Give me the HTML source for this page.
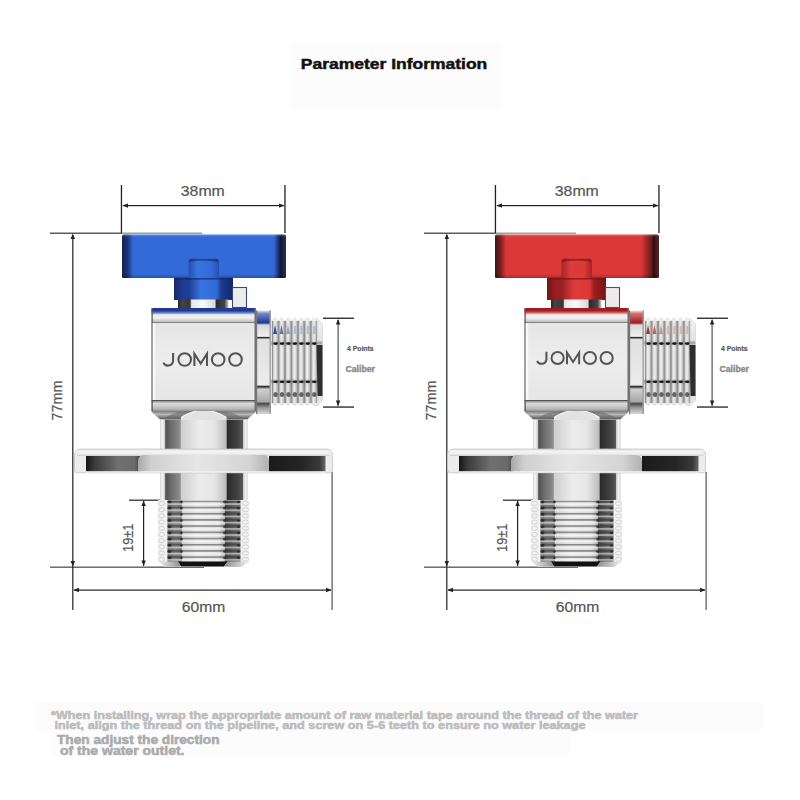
<!DOCTYPE html>
<html><head><meta charset="utf-8">
<style>
html,body{margin:0;padding:0;background:#fff;width:800px;height:800px;overflow:hidden;}
svg{display:block;}
text{font-family:"Liberation Sans",sans-serif;}
</style></head><body>
<svg width="800" height="800" viewBox="0 0 800 800">
<defs>
  <g id="dims">
    <!-- 38mm -->
    <rect x="120.8" y="185" width="1.3" height="48" fill="#222"/>
    <rect x="284.3" y="185" width="1.3" height="48" fill="#222"/>
    <rect x="123" y="205" width="161" height="1.2" fill="#222"/>
    <path d="M122.2 205.6 L128 203.4 L128 207.8 Z" fill="#222"/>
    <path d="M284.5 205.6 L279 203.4 L279 207.8 Z" fill="#222"/>
    <text x="180.8" y="196" font-size="15.4" fill="#555" stroke="#555" stroke-width="0.2" textLength="44" lengthAdjust="spacingAndGlyphs">38mm</text>
    <!-- 77mm -->
    <rect x="50" y="232.6" width="72" height="1.2" fill="#333"/>
    <rect x="122" y="232.6" width="80" height="1.2" fill="#888"/>
    <rect x="72.2" y="235" width="1.2" height="375" fill="#222"/>
    <path d="M72.8 233.5 L70.6 239 L75 239 Z" fill="#222"/>
    <path d="M72.8 566.5 L70.6 561 L75 561 Z" fill="#222"/>
    <rect x="50" y="566.6" width="154" height="1.1" fill="#333"/>
    <text transform="translate(61.8,420.5) rotate(-90)" font-size="15.4" fill="#555" stroke="#555" stroke-width="0.2" textLength="40" lengthAdjust="spacingAndGlyphs">77mm</text>
    <!-- 60mm -->
    <rect x="74" y="589.5" width="257" height="1.2" fill="#222"/>
    <path d="M73.5 590 L79 587.8 L79 592.2 Z" fill="#222"/>
    <path d="M331.5 590 L326 587.8 L326 592.2 Z" fill="#222"/>
    <rect x="331.5" y="472" width="1.2" height="138" fill="#555"/>
    <text x="181.8" y="612" font-size="15.4" fill="#555" stroke="#555" stroke-width="0.2" textLength="43.5" lengthAdjust="spacingAndGlyphs">60mm</text>
    <!-- 19±1 -->
    <rect x="129" y="499.6" width="31" height="1.2" fill="#222"/>
    <rect x="143" y="501" width="1.2" height="65" fill="#222"/>
    <path d="M143.6 500.5 L141.4 506 L145.8 506 Z" fill="#222"/>
    <path d="M143.6 566 L141.4 560.5 L145.8 560.5 Z" fill="#222"/>
    <text transform="translate(133.1,552) rotate(-90)" font-size="15" fill="#555" stroke="#555" stroke-width="0.2" textLength="28.5" lengthAdjust="spacingAndGlyphs">19±1</text>
    <!-- caliber -->
    <rect x="323" y="317.6" width="31" height="1.3" fill="#222"/>
    <rect x="323" y="406.4" width="31" height="1.3" fill="#222"/>
    <rect x="337.5" y="320" width="1.2" height="86" fill="#555"/>
    <path d="M338.1 319 L335.9 324.5 L340.3 324.5 Z" fill="#222"/>
    <path d="M338.1 406 L335.9 400.5 L340.3 400.5 Z" fill="#222"/>
    <text x="347" y="351.2" font-size="6.4" font-weight="bold" fill="#5a5a5a" stroke="#5a5a5a" stroke-width="0.2" textLength="26.5" lengthAdjust="spacingAndGlyphs">4 Points</text>
    <text x="345.5" y="372.3" font-size="8.5" font-weight="bold" fill="#8a8a8a" stroke="#8a8a8a" stroke-width="0.35" textLength="29.5" lengthAdjust="spacingAndGlyphs">Caliber</text>
  </g>

</defs>
<rect width="800" height="800" fill="#fff"/>
<rect x="36" y="702.5" width="727" height="28" fill="#fbfbfb"/>
<rect x="51" y="730.5" width="520" height="24" fill="#fcfcfc"/>
<rect x="290" y="43" width="212" height="66" fill="#fcfcfc"/>
<text x="300.8" y="69.1" font-size="14" font-weight="bold" fill="#111" stroke="#111" stroke-width="0.45" textLength="186.5" lengthAdjust="spacingAndGlyphs">Parameter Information</text>
<use href="#dims"/>
<use href="#dims" x="374"/>
<g transform="translate(0,0)">
<defs>

  <linearGradient id="v1neck" x1="160" y1="0" x2="247.5" y2="0" gradientUnits="userSpaceOnUse">
    <stop offset="0" stop-color="#d8d8d8"/>
    <stop offset="0.03" stop-color="#f6f6f6"/>
    <stop offset="0.055" stop-color="#c8c8c8"/>
    <stop offset="0.065" stop-color="#505050"/>
    <stop offset="0.12" stop-color="#6a6a6a"/>
    <stop offset="0.23" stop-color="#8c8c8c"/>
    <stop offset="0.245" stop-color="#cfcfcf"/>
    <stop offset="0.45" stop-color="#ececec"/>
    <stop offset="0.62" stop-color="#e6e6e6"/>
    <stop offset="0.755" stop-color="#bdbdbd"/>
    <stop offset="0.77" stop-color="#2a2a2a"/>
    <stop offset="0.9" stop-color="#454545"/>
    <stop offset="0.945" stop-color="#5a5a5a"/>
    <stop offset="0.955" stop-color="#d4d4d4"/>
    <stop offset="0.98" stop-color="#f4f4f4"/>
    <stop offset="1" stop-color="#cccccc"/>
  </linearGradient>
  <linearGradient id="v1topband" x1="0" y1="308" x2="0" y2="323" gradientUnits="userSpaceOnUse">
    <stop offset="0" stop-color="#1e3a94"/>
    <stop offset="0.18" stop-color="#1e3a94"/>
    <stop offset="0.33" stop-color="#6f86c8"/>
    <stop offset="0.45" stop-color="#ececec"/>
    <stop offset="0.65" stop-color="#f2f2f2"/>
    <stop offset="0.9" stop-color="#c4c4c4"/>
    <stop offset="1" stop-color="#3a3a3a"/>
  </linearGradient>
  <linearGradient id="v1face" x1="0" y1="323" x2="0" y2="400" gradientUnits="userSpaceOnUse">
    <stop offset="0" stop-color="#e6e6e6"/>
    <stop offset="0.5" stop-color="#ededed"/>
    <stop offset="1" stop-color="#e6e6e6"/>
  </linearGradient>
  <linearGradient id="v1botband" x1="0" y1="400" x2="0" y2="412" gradientUnits="userSpaceOnUse">
    <stop offset="0" stop-color="#2e2e2e"/>
    <stop offset="0.12" stop-color="#9a9a9a"/>
    <stop offset="0.3" stop-color="#dcdcdc"/>
    <stop offset="0.75" stop-color="#b8b8b8"/>
    <stop offset="1" stop-color="#7a7a7a"/>
  </linearGradient>
  <linearGradient id="v1taper" x1="0" y1="410" x2="0" y2="419" gradientUnits="userSpaceOnUse">
    <stop offset="0" stop-color="#6a6a6a"/>
    <stop offset="0.5" stop-color="#b8b8b8"/>
    <stop offset="1" stop-color="#5a5a5a"/>
  </linearGradient>
  <linearGradient id="v1handle" x1="122" y1="0" x2="286" y2="0" gradientUnits="userSpaceOnUse">
    <stop offset="0" stop-color="#17244f"/>
    <stop offset="0.035" stop-color="#1e3478"/>
    <stop offset="0.068" stop-color="#336ad8"/>
    <stop offset="0.925" stop-color="#336ad8"/>
    <stop offset="0.955" stop-color="#1a2f70"/>
    <stop offset="0.968" stop-color="#0e1630"/>
    <stop offset="1" stop-color="#2a3358"/>
  </linearGradient>
  <linearGradient id="v1handleV" x1="0" y1="234.5" x2="0" y2="278" gradientUnits="userSpaceOnUse">
    <stop offset="0" stop-color="#ffffff" stop-opacity="0.25"/>
    <stop offset="0.06" stop-color="#ffffff" stop-opacity="0"/>
    <stop offset="0.9" stop-color="#000000" stop-opacity="0"/>
    <stop offset="1" stop-color="#000000" stop-opacity="0.2"/>
  </linearGradient>
  <linearGradient id="v1stem" x1="188.5" y1="0" x2="219" y2="0" gradientUnits="userSpaceOnUse">
    <stop offset="0" stop-color="#2350b0"/>
    <stop offset="0.3" stop-color="#3a74e0"/>
    <stop offset="0.75" stop-color="#336ad8"/>
    <stop offset="1" stop-color="#2350b0"/>
  </linearGradient>
  <linearGradient id="v1collar" x1="174" y1="0" x2="233" y2="0" gradientUnits="userSpaceOnUse">
    <stop offset="0" stop-color="#13286a"/>
    <stop offset="0.15" stop-color="#1e3c92"/>
    <stop offset="0.25" stop-color="#1e3c92"/>
    <stop offset="0.45" stop-color="#3a74e0"/>
    <stop offset="0.72" stop-color="#336ad8"/>
    <stop offset="0.8" stop-color="#1e3c92"/>
    <stop offset="1" stop-color="#13286a"/>
  </linearGradient>
  <linearGradient id="v1ring" x1="178" y1="0" x2="228.5" y2="0" gradientUnits="userSpaceOnUse">
    <stop offset="0" stop-color="#2a2a2a"/>
    <stop offset="0.08" stop-color="#444"/>
    <stop offset="0.24" stop-color="#3a3530"/>
    <stop offset="0.27" stop-color="#e8e8e8"/>
    <stop offset="0.5" stop-color="#fafafa"/>
    <stop offset="0.73" stop-color="#d8d8d8"/>
    <stop offset="0.76" stop-color="#2e2a28"/>
    <stop offset="0.92" stop-color="#444"/>
    <stop offset="1" stop-color="#cfcfcf"/>
  </linearGradient>
  <linearGradient id="v1flange" x1="74.5" y1="0" x2="332.5" y2="0" gradientUnits="userSpaceOnUse">
    <stop offset="0" stop-color="#e6e6e6"/>
    <stop offset="0.04" stop-color="#d4d4d4"/>
    <stop offset="0.045" stop-color="#222222"/>
    <stop offset="0.07" stop-color="#4a4a4a"/>
    <stop offset="0.2" stop-color="#7a7a7a"/>
    <stop offset="0.245" stop-color="#5a5a5a"/>
    <stop offset="0.25" stop-color="#c8c8c8"/>
    <stop offset="0.5" stop-color="#dedede"/>
    <stop offset="0.74" stop-color="#d2d2d2"/>
    <stop offset="0.745" stop-color="#262626"/>
    <stop offset="0.95" stop-color="#303030"/>
    <stop offset="0.97" stop-color="#777777"/>
    <stop offset="0.975" stop-color="#e8e8e8"/>
    <stop offset="1" stop-color="#d0d0d0"/>
  </linearGradient>
  <linearGradient id="v1chL" x1="158" y1="0" x2="181" y2="0" gradientUnits="userSpaceOnUse">
    <stop offset="0" stop-color="#f0f0f0"/>
    <stop offset="0.6" stop-color="#b8b8b8"/>
    <stop offset="1" stop-color="#8a8a8a"/>
  </linearGradient>
  <linearGradient id="v1chR" x1="224" y1="0" x2="248" y2="0" gradientUnits="userSpaceOnUse">
    <stop offset="0" stop-color="#8a8a8a"/>
    <stop offset="0.4" stop-color="#b0b0b0"/>
    <stop offset="1" stop-color="#f0f0f0"/>
  </linearGradient>
  <linearGradient id="v1rim" x1="0" y1="449.6" x2="0" y2="455.6" gradientUnits="userSpaceOnUse">
    <stop offset="0" stop-color="#d0d0d0"/>
    <stop offset="0.2" stop-color="#f6f6f6"/>
    <stop offset="0.8" stop-color="#ebebeb"/>
    <stop offset="1" stop-color="#bdbdbd"/>
  </linearGradient>
  <linearGradient id="v1flL" x1="86" y1="0" x2="140" y2="0" gradientUnits="userSpaceOnUse">
    <stop offset="0" stop-color="#151515"/>
    <stop offset="0.15" stop-color="#3a3a3a"/>
    <stop offset="0.6" stop-color="#707070"/>
    <stop offset="0.9" stop-color="#6a6a6a"/>
    <stop offset="1" stop-color="#444444"/>
  </linearGradient>
  <linearGradient id="v1flR" x1="269" y1="0" x2="325.5" y2="0" gradientUnits="userSpaceOnUse">
    <stop offset="0" stop-color="#1a1a1a"/>
    <stop offset="0.6" stop-color="#262626"/>
    <stop offset="0.9" stop-color="#3a3a3a"/>
    <stop offset="1" stop-color="#6a6a6a"/>
  </linearGradient>
  <linearGradient id="v1plate" x1="138" y1="0" x2="269" y2="0" gradientUnits="userSpaceOnUse">
    <stop offset="0" stop-color="#a8a8a8"/>
    <stop offset="0.1" stop-color="#cfcfcf"/>
    <stop offset="0.45" stop-color="#e6e6e6"/>
    <stop offset="0.85" stop-color="#d4d4d4"/>
    <stop offset="1" stop-color="#b0b0b0"/>
  </linearGradient>
  <linearGradient id="v1nut" x1="0" y1="310.5" x2="0" y2="414" gradientUnits="userSpaceOnUse">
    <stop offset="0" stop-color="#e8e8e8"/>
    <stop offset="0.03" stop-color="#6f86c8"/>
    <stop offset="0.12" stop-color="#1e3a94"/>
    <stop offset="0.14" stop-color="#d8d8d8"/>
    <stop offset="0.25" stop-color="#f0f0f0"/>
    <stop offset="0.26" stop-color="#2a2a2a"/>
    <stop offset="0.28" stop-color="#e0e0e0"/>
    <stop offset="0.72" stop-color="#ececec"/>
    <stop offset="0.735" stop-color="#2a2a2a"/>
    <stop offset="0.76" stop-color="#d0d0d0"/>
    <stop offset="0.88" stop-color="#a8a8a8"/>
    <stop offset="0.9" stop-color="#4a4a4a"/>
    <stop offset="0.94" stop-color="#9a9a9a"/>
    <stop offset="1" stop-color="#d8d8d8"/>
  </linearGradient>
  <linearGradient id="v1thrV" x1="0" y1="318" x2="0" y2="407" gradientUnits="userSpaceOnUse">
    <stop offset="0" stop-color="#f0f0f0"/>
    <stop offset="0.25" stop-color="#e4e4e4"/>
    <stop offset="0.28" stop-color="#9a9a9a"/>
    <stop offset="0.32" stop-color="#f4f4f4"/>
    <stop offset="0.68" stop-color="#f2f2f2"/>
    <stop offset="0.71" stop-color="#8a8a8a"/>
    <stop offset="0.75" stop-color="#dadada"/>
    <stop offset="1" stop-color="#e8e8e8"/>
  </linearGradient>
  <linearGradient id="v1ridgeG" x1="0" y1="0" x2="1" y2="0">
    <stop offset="0" stop-color="#555555" stop-opacity="0.9"/>
    <stop offset="0.18" stop-color="#9a9a9a" stop-opacity="0.5"/>
    <stop offset="0.42" stop-color="#ffffff" stop-opacity="0.9"/>
    <stop offset="0.7" stop-color="#bdbdbd" stop-opacity="0.4"/>
    <stop offset="1" stop-color="#6a6a6a" stop-opacity="0.85"/>
  </linearGradient>
  <pattern id="v1ridge" x="272" y="0" width="6.45" height="100" patternUnits="userSpaceOnUse">
    <rect x="0" y="0" width="6.45" height="100" fill="url(#v1ridgeG)"/>
  </pattern>
  <pattern id="v1lthread" x="0" y="500.5" width="100" height="6.2" patternUnits="userSpaceOnUse">
    <rect x="0" y="0" width="100" height="1.6" fill="#3a3a3a" fill-opacity="0.55"/>
    <rect x="0" y="2.6" width="100" height="2" fill="#ffffff" fill-opacity="0.5"/>
  </pattern>
  <linearGradient id="v1lthrG" x1="167.5" y1="0" x2="240.5" y2="0" gradientUnits="userSpaceOnUse">
    <stop offset="0" stop-color="#5a5a5a"/>
    <stop offset="0.1" stop-color="#7a7a7a"/>
    <stop offset="0.19" stop-color="#727272"/>
    <stop offset="0.2" stop-color="#cfcfcf"/>
    <stop offset="0.4" stop-color="#e8e8e8"/>
    <stop offset="0.7" stop-color="#e0e0e0"/>
    <stop offset="0.78" stop-color="#b0b0b0"/>
    <stop offset="0.79" stop-color="#3a3a3a"/>
    <stop offset="0.9" stop-color="#5a5a5a"/>
    <stop offset="1" stop-color="#6a6a6a"/>
  </linearGradient>

</defs>
<rect x="160" y="410" width="87.5" height="41" fill="url(#v1neck)"/>
<path d="M151.5 410 L256 410 L256 412 Q251 416 247.5 419.5 L160 419.5 Q156 416 151.5 412 Z" fill="url(#v1taper)" stroke="#e8e8e8" stroke-width="0.6"/>
<path d="M164 419.5 Q170 413 181 412 Q203.5 409 226.5 412 Q237 413 244 419.5 Z" fill="#6a6a6a" fill-opacity="0.6"/>
<path d="M181 420 L181 417.5 Q203.5 403 226.5 417.5 L226.5 420 Z" fill="#e2e2e2"/>
<path d="M181 417.5 Q203.5 403 226.5 417.5" fill="none" stroke="#fafafa" stroke-width="1.2"/>
<rect x="160" y="472" width="87.5" height="29" fill="url(#v1neck)"/>
<path d="M158 500 L249 500 L249 562 L241 567 L166 567 L158 562 Z" fill="#f2f2f2"/>
<g fill="none" stroke="#c8c8c8" stroke-width="0.8"><ellipse cx="161.5" cy="503.50" rx="3" ry="2.1"/><ellipse cx="245.5" cy="503.50" rx="3" ry="2.1"/><ellipse cx="161.5" cy="509.70" rx="3" ry="2.1"/><ellipse cx="245.5" cy="509.70" rx="3" ry="2.1"/><ellipse cx="161.5" cy="515.90" rx="3" ry="2.1"/><ellipse cx="245.5" cy="515.90" rx="3" ry="2.1"/><ellipse cx="161.5" cy="522.10" rx="3" ry="2.1"/><ellipse cx="245.5" cy="522.10" rx="3" ry="2.1"/><ellipse cx="161.5" cy="528.30" rx="3" ry="2.1"/><ellipse cx="245.5" cy="528.30" rx="3" ry="2.1"/><ellipse cx="161.5" cy="534.50" rx="3" ry="2.1"/><ellipse cx="245.5" cy="534.50" rx="3" ry="2.1"/><ellipse cx="161.5" cy="540.70" rx="3" ry="2.1"/><ellipse cx="245.5" cy="540.70" rx="3" ry="2.1"/><ellipse cx="161.5" cy="546.90" rx="3" ry="2.1"/><ellipse cx="245.5" cy="546.90" rx="3" ry="2.1"/><ellipse cx="161.5" cy="553.10" rx="3" ry="2.1"/><ellipse cx="245.5" cy="553.10" rx="3" ry="2.1"/><ellipse cx="161.5" cy="559.30" rx="3" ry="2.1"/><ellipse cx="245.5" cy="559.30" rx="3" ry="2.1"/></g>
<rect x="167.5" y="500.5" width="73" height="62" fill="url(#v1lthrG)"/>
<rect x="167.5" y="500.5" width="73" height="62" fill="url(#v1lthread)"/>
<g fill="#111" fill-opacity="0.6"><ellipse cx="169.5" cy="502.00" rx="2" ry="1.4"/><ellipse cx="181.5" cy="502.00" rx="1.4" ry="1.4"/><ellipse cx="224.5" cy="502.00" rx="1.4" ry="1.4"/><ellipse cx="238.5" cy="502.00" rx="1.6" ry="1.2"/><ellipse cx="169.5" cy="508.20" rx="2" ry="1.4"/><ellipse cx="181.5" cy="508.20" rx="1.4" ry="1.4"/><ellipse cx="224.5" cy="508.20" rx="1.4" ry="1.4"/><ellipse cx="238.5" cy="508.20" rx="1.6" ry="1.2"/><ellipse cx="169.5" cy="514.40" rx="2" ry="1.4"/><ellipse cx="181.5" cy="514.40" rx="1.4" ry="1.4"/><ellipse cx="224.5" cy="514.40" rx="1.4" ry="1.4"/><ellipse cx="238.5" cy="514.40" rx="1.6" ry="1.2"/><ellipse cx="169.5" cy="520.60" rx="2" ry="1.4"/><ellipse cx="181.5" cy="520.60" rx="1.4" ry="1.4"/><ellipse cx="224.5" cy="520.60" rx="1.4" ry="1.4"/><ellipse cx="238.5" cy="520.60" rx="1.6" ry="1.2"/><ellipse cx="169.5" cy="526.80" rx="2" ry="1.4"/><ellipse cx="181.5" cy="526.80" rx="1.4" ry="1.4"/><ellipse cx="224.5" cy="526.80" rx="1.4" ry="1.4"/><ellipse cx="238.5" cy="526.80" rx="1.6" ry="1.2"/><ellipse cx="169.5" cy="533.00" rx="2" ry="1.4"/><ellipse cx="181.5" cy="533.00" rx="1.4" ry="1.4"/><ellipse cx="224.5" cy="533.00" rx="1.4" ry="1.4"/><ellipse cx="238.5" cy="533.00" rx="1.6" ry="1.2"/><ellipse cx="169.5" cy="539.20" rx="2" ry="1.4"/><ellipse cx="181.5" cy="539.20" rx="1.4" ry="1.4"/><ellipse cx="224.5" cy="539.20" rx="1.4" ry="1.4"/><ellipse cx="238.5" cy="539.20" rx="1.6" ry="1.2"/><ellipse cx="169.5" cy="545.40" rx="2" ry="1.4"/><ellipse cx="181.5" cy="545.40" rx="1.4" ry="1.4"/><ellipse cx="224.5" cy="545.40" rx="1.4" ry="1.4"/><ellipse cx="238.5" cy="545.40" rx="1.6" ry="1.2"/><ellipse cx="169.5" cy="551.60" rx="2" ry="1.4"/><ellipse cx="181.5" cy="551.60" rx="1.4" ry="1.4"/><ellipse cx="224.5" cy="551.60" rx="1.4" ry="1.4"/><ellipse cx="238.5" cy="551.60" rx="1.6" ry="1.2"/><ellipse cx="169.5" cy="557.80" rx="2" ry="1.4"/><ellipse cx="181.5" cy="557.80" rx="1.4" ry="1.4"/><ellipse cx="224.5" cy="557.80" rx="1.4" ry="1.4"/><ellipse cx="238.5" cy="557.80" rx="1.6" ry="1.2"/></g>
<path d="M178 561.6 L227.5 561.6 L224 566.5 L181 566.5 Z" fill="#121212"/>
<path d="M227.5 561.6 L240 561.6 L248 562 L241 567 L224 566.5 Z" fill="url(#v1chR)"/>
<path d="M166 561.6 L178 561.6 L181 566.5 L166 567 L158.5 562 Z" fill="url(#v1chL)"/>
<path d="M81 449 L326 449 Q332.5 449 332.5 455.5 L332.5 470 Q332.5 472.8 329.5 472.8 L77.5 472.8 Q74.5 472.8 74.5 470 L74.5 455.5 Q74.5 449 81 449 Z" fill="#ececec" stroke="#c4c4c4" stroke-width="0.8"/>
<rect x="77" y="449.6" width="253" height="6" fill="url(#v1rim)"/>
<path d="M86 456 L140 456 L140 471.6 L86 471.6 Z" fill="url(#v1flL)"/>
<path d="M269 456 L325.5 456 L325.5 471.6 L269 471.6 Z" fill="url(#v1flR)"/>
<path d="M145 455 L262 455 Q269 455 269 461 L269 471.6 L138 471.6 L138 461 Q138 455 145 455 Z" fill="url(#v1plate)"/>
<rect x="86" y="471.4" width="240" height="1.2" fill="#f4f4f4"/>
<rect x="151.5" y="308" width="104.5" height="15" rx="1.5" fill="url(#v1topband)"/>
<rect x="151.5" y="322.8" width="104.5" height="77.4" fill="url(#v1face)"/>
<rect x="151.5" y="400" width="104.5" height="11" fill="url(#v1botband)"/>
<rect x="151.5" y="308" width="1.2" height="103" fill="#505050"/>
<rect x="152.7" y="323" width="2.5" height="77" fill="#f8f8f8"/>
<rect x="254.5" y="308" width="1.5" height="103" fill="#707070"/>
<rect x="256" y="310.5" width="15" height="103.5" fill="url(#v1nut)"/>
<rect x="256" y="310.5" width="1.2" height="103.5" fill="#777"/>
<rect x="269.5" y="310.5" width="1.5" height="103.5" fill="#9a9a9a"/>
<path d="M271 321.5 L275.23 317.6 L278.45 321.2 L281.68 317.6 L284.90 321.2 L288.12 317.6 L291.35 321.2 L294.58 317.6 L297.80 321.2 L301.03 317.6 L304.25 321.2 L307.48 317.6 L310.70 321.2 L313.93 317.6 L317.15 321.2 L316.5 318 L322.5 324 L322.5 400 L317 406 L313.93 405.5 L310.70 403 L307.48 405.5 L304.25 403 L301.03 405.5 L297.80 403 L294.58 405.5 L291.35 403 L288.12 405.5 L284.90 403 L281.68 405.5 L278.45 403 L275.23 405.5 L272.00 403 L271 403 Z" fill="url(#v1thrV)" stroke="#cfcfcf" stroke-width="0.6"/>
<rect x="272.0" y="321" width="45.15" height="82" fill="url(#v1ridge)"/>
<ellipse cx="275.55" cy="343.6" rx="2.3" ry="1.3" fill="#151515"/>
<ellipse cx="275.55" cy="381.8" rx="2.3" ry="1.3" fill="#151515"/>
<ellipse cx="275.55" cy="394.5" rx="2.2" ry="2.6" fill="#3a3a3a" fill-opacity="0.75"/>
<ellipse cx="282.00" cy="343.6" rx="2.3" ry="1.3" fill="#151515"/>
<ellipse cx="282.00" cy="381.8" rx="2.3" ry="1.3" fill="#151515"/>
<ellipse cx="282.00" cy="394.5" rx="2.2" ry="2.6" fill="#3a3a3a" fill-opacity="0.75"/>
<ellipse cx="288.45" cy="343.6" rx="2.3" ry="1.3" fill="#151515"/>
<ellipse cx="288.45" cy="381.8" rx="2.3" ry="1.3" fill="#151515"/>
<ellipse cx="288.45" cy="394.5" rx="2.2" ry="2.6" fill="#3a3a3a" fill-opacity="0.75"/>
<ellipse cx="294.90" cy="343.6" rx="2.3" ry="1.3" fill="#151515"/>
<ellipse cx="294.90" cy="381.8" rx="2.3" ry="1.3" fill="#151515"/>
<ellipse cx="294.90" cy="394.5" rx="2.2" ry="2.6" fill="#3a3a3a" fill-opacity="0.75"/>
<ellipse cx="301.35" cy="343.6" rx="2.3" ry="1.3" fill="#151515"/>
<ellipse cx="301.35" cy="381.8" rx="2.3" ry="1.3" fill="#151515"/>
<ellipse cx="301.35" cy="394.5" rx="2.2" ry="2.6" fill="#3a3a3a" fill-opacity="0.75"/>
<ellipse cx="307.80" cy="343.6" rx="2.3" ry="1.3" fill="#151515"/>
<ellipse cx="307.80" cy="381.8" rx="2.3" ry="1.3" fill="#151515"/>
<ellipse cx="307.80" cy="394.5" rx="2.2" ry="2.6" fill="#3a3a3a" fill-opacity="0.75"/>
<ellipse cx="314.25" cy="343.6" rx="2.3" ry="1.3" fill="#151515"/>
<ellipse cx="314.25" cy="381.8" rx="2.3" ry="1.3" fill="#151515"/>
<ellipse cx="314.25" cy="394.5" rx="2.2" ry="2.6" fill="#3a3a3a" fill-opacity="0.75"/>
<path d="M273.20 334 L275.00 325 L277.00 334 Z" fill="#1e3a94" fill-opacity="0.90"/>
<path d="M279.65 334 L281.45 325 L283.45 334 Z" fill="#1e3a94" fill-opacity="0.65"/>
<path d="M286.10 334 L287.90 325 L289.90 334 Z" fill="#1e3a94" fill-opacity="0.40"/>
<rect x="293.85" y="326" width="2" height="8" fill="#6f86c8" fill-opacity="0.45"/>
<rect x="300.30" y="326" width="2" height="8" fill="#6f86c8" fill-opacity="0.45"/>
<rect x="306.75" y="326" width="2" height="8" fill="#6f86c8" fill-opacity="0.45"/>
<rect x="313.20" y="326" width="2" height="8" fill="#6f86c8" fill-opacity="0.45"/>
<path d="M316.5 345 L322.5 345 L322.5 396 L317.5 396 Z" fill="#2e2e2e"/>
<rect x="174" y="277.5" width="59" height="22.5" fill="url(#v1collar)"/>
<rect x="178" y="299.5" width="50.5" height="8.5" fill="url(#v1ring)"/>
<rect x="232.5" y="287.5" width="14" height="20" fill="#ececec" stroke="#3a4a7a" stroke-width="1.1"/>
<rect x="122" y="234.5" width="164" height="43.5" rx="1.5" fill="url(#v1handle)"/>
<rect x="122" y="234.5" width="164" height="43.5" rx="1.5" fill="url(#v1handleV)"/>
<rect x="174" y="277.6" width="59" height="2" fill="#13286a" fill-opacity="0.7"/>
<path d="M188.5 278 L188.5 262 Q188.5 258.5 192 258.5 L215.5 258.5 Q219 258.5 219 262 L219 278 Z" fill="url(#v1stem)"/>
<path d="M188.8 262 Q188.8 258.8 192 258.8 L215.5 258.8 Q218.7 258.8 218.7 262 Q203.7 259.6 188.8 262 Z" fill="#13286a" fill-opacity="0.6"/>
<g transform="translate(162.5,353)" fill="none" stroke="#555" stroke-width="2.1"><path d="M10.6 0 V8.2 A5.1 5.1 0 0 1 0.9 9.6"/><circle cx="22.2" cy="6.5" r="6.3"/><path d="M31.9 13 V0.8 L38.2 10.6 L44.5 0.8 V13" stroke-linejoin="miter"/><circle cx="55.7" cy="6.5" r="6.3"/><circle cx="73" cy="6.5" r="6.3"/></g>
</g>
<g transform="translate(373,0)">
<defs>

  <linearGradient id="v2neck" x1="160" y1="0" x2="247.5" y2="0" gradientUnits="userSpaceOnUse">
    <stop offset="0" stop-color="#d8d8d8"/>
    <stop offset="0.03" stop-color="#f6f6f6"/>
    <stop offset="0.055" stop-color="#c8c8c8"/>
    <stop offset="0.065" stop-color="#505050"/>
    <stop offset="0.12" stop-color="#6a6a6a"/>
    <stop offset="0.23" stop-color="#8c8c8c"/>
    <stop offset="0.245" stop-color="#cfcfcf"/>
    <stop offset="0.45" stop-color="#ececec"/>
    <stop offset="0.62" stop-color="#e6e6e6"/>
    <stop offset="0.755" stop-color="#bdbdbd"/>
    <stop offset="0.77" stop-color="#2a2a2a"/>
    <stop offset="0.9" stop-color="#454545"/>
    <stop offset="0.945" stop-color="#5a5a5a"/>
    <stop offset="0.955" stop-color="#d4d4d4"/>
    <stop offset="0.98" stop-color="#f4f4f4"/>
    <stop offset="1" stop-color="#cccccc"/>
  </linearGradient>
  <linearGradient id="v2topband" x1="0" y1="308" x2="0" y2="323" gradientUnits="userSpaceOnUse">
    <stop offset="0" stop-color="#a01c20"/>
    <stop offset="0.18" stop-color="#a01c20"/>
    <stop offset="0.33" stop-color="#d87070"/>
    <stop offset="0.45" stop-color="#ececec"/>
    <stop offset="0.65" stop-color="#f2f2f2"/>
    <stop offset="0.9" stop-color="#c4c4c4"/>
    <stop offset="1" stop-color="#3a3a3a"/>
  </linearGradient>
  <linearGradient id="v2face" x1="0" y1="323" x2="0" y2="400" gradientUnits="userSpaceOnUse">
    <stop offset="0" stop-color="#e6e6e6"/>
    <stop offset="0.5" stop-color="#ededed"/>
    <stop offset="1" stop-color="#e6e6e6"/>
  </linearGradient>
  <linearGradient id="v2botband" x1="0" y1="400" x2="0" y2="412" gradientUnits="userSpaceOnUse">
    <stop offset="0" stop-color="#2e2e2e"/>
    <stop offset="0.12" stop-color="#9a9a9a"/>
    <stop offset="0.3" stop-color="#dcdcdc"/>
    <stop offset="0.75" stop-color="#b8b8b8"/>
    <stop offset="1" stop-color="#7a7a7a"/>
  </linearGradient>
  <linearGradient id="v2taper" x1="0" y1="410" x2="0" y2="419" gradientUnits="userSpaceOnUse">
    <stop offset="0" stop-color="#6a6a6a"/>
    <stop offset="0.5" stop-color="#b8b8b8"/>
    <stop offset="1" stop-color="#5a5a5a"/>
  </linearGradient>
  <linearGradient id="v2handle" x1="122" y1="0" x2="286" y2="0" gradientUnits="userSpaceOnUse">
    <stop offset="0" stop-color="#3a1414"/>
    <stop offset="0.035" stop-color="#7a2020"/>
    <stop offset="0.068" stop-color="#dc3838"/>
    <stop offset="0.89" stop-color="#dc3838"/>
    <stop offset="0.955" stop-color="#6a1a1a"/>
    <stop offset="0.968" stop-color="#2e0c0c"/>
    <stop offset="1" stop-color="#5a2a2a"/>
  </linearGradient>
  <linearGradient id="v2handleV" x1="0" y1="234.5" x2="0" y2="278" gradientUnits="userSpaceOnUse">
    <stop offset="0" stop-color="#ffffff" stop-opacity="0.25"/>
    <stop offset="0.06" stop-color="#ffffff" stop-opacity="0"/>
    <stop offset="0.9" stop-color="#000000" stop-opacity="0"/>
    <stop offset="1" stop-color="#000000" stop-opacity="0.2"/>
  </linearGradient>
  <linearGradient id="v2stem" x1="188.5" y1="0" x2="219" y2="0" gradientUnits="userSpaceOnUse">
    <stop offset="0" stop-color="#a82428"/>
    <stop offset="0.3" stop-color="#dc3c3c"/>
    <stop offset="0.75" stop-color="#dc3838"/>
    <stop offset="1" stop-color="#a82428"/>
  </linearGradient>
  <linearGradient id="v2collar" x1="174" y1="0" x2="233" y2="0" gradientUnits="userSpaceOnUse">
    <stop offset="0" stop-color="#741414"/>
    <stop offset="0.15" stop-color="#9a1e22"/>
    <stop offset="0.25" stop-color="#9a1e22"/>
    <stop offset="0.45" stop-color="#dc3c3c"/>
    <stop offset="0.72" stop-color="#dc3838"/>
    <stop offset="0.8" stop-color="#9a1e22"/>
    <stop offset="1" stop-color="#741414"/>
  </linearGradient>
  <linearGradient id="v2ring" x1="178" y1="0" x2="228.5" y2="0" gradientUnits="userSpaceOnUse">
    <stop offset="0" stop-color="#2a2a2a"/>
    <stop offset="0.08" stop-color="#444"/>
    <stop offset="0.24" stop-color="#3a3530"/>
    <stop offset="0.27" stop-color="#e8e8e8"/>
    <stop offset="0.5" stop-color="#fafafa"/>
    <stop offset="0.73" stop-color="#d8d8d8"/>
    <stop offset="0.76" stop-color="#2e2a28"/>
    <stop offset="0.92" stop-color="#444"/>
    <stop offset="1" stop-color="#cfcfcf"/>
  </linearGradient>
  <linearGradient id="v2flange" x1="74.5" y1="0" x2="332.5" y2="0" gradientUnits="userSpaceOnUse">
    <stop offset="0" stop-color="#e6e6e6"/>
    <stop offset="0.04" stop-color="#d4d4d4"/>
    <stop offset="0.045" stop-color="#222222"/>
    <stop offset="0.07" stop-color="#4a4a4a"/>
    <stop offset="0.2" stop-color="#7a7a7a"/>
    <stop offset="0.245" stop-color="#5a5a5a"/>
    <stop offset="0.25" stop-color="#c8c8c8"/>
    <stop offset="0.5" stop-color="#dedede"/>
    <stop offset="0.74" stop-color="#d2d2d2"/>
    <stop offset="0.745" stop-color="#262626"/>
    <stop offset="0.95" stop-color="#303030"/>
    <stop offset="0.97" stop-color="#777777"/>
    <stop offset="0.975" stop-color="#e8e8e8"/>
    <stop offset="1" stop-color="#d0d0d0"/>
  </linearGradient>
  <linearGradient id="v2chL" x1="158" y1="0" x2="181" y2="0" gradientUnits="userSpaceOnUse">
    <stop offset="0" stop-color="#f0f0f0"/>
    <stop offset="0.6" stop-color="#b8b8b8"/>
    <stop offset="1" stop-color="#8a8a8a"/>
  </linearGradient>
  <linearGradient id="v2chR" x1="224" y1="0" x2="248" y2="0" gradientUnits="userSpaceOnUse">
    <stop offset="0" stop-color="#8a8a8a"/>
    <stop offset="0.4" stop-color="#b0b0b0"/>
    <stop offset="1" stop-color="#f0f0f0"/>
  </linearGradient>
  <linearGradient id="v2rim" x1="0" y1="449.6" x2="0" y2="455.6" gradientUnits="userSpaceOnUse">
    <stop offset="0" stop-color="#d0d0d0"/>
    <stop offset="0.2" stop-color="#f6f6f6"/>
    <stop offset="0.8" stop-color="#ebebeb"/>
    <stop offset="1" stop-color="#bdbdbd"/>
  </linearGradient>
  <linearGradient id="v2flL" x1="86" y1="0" x2="140" y2="0" gradientUnits="userSpaceOnUse">
    <stop offset="0" stop-color="#151515"/>
    <stop offset="0.15" stop-color="#3a3a3a"/>
    <stop offset="0.6" stop-color="#707070"/>
    <stop offset="0.9" stop-color="#6a6a6a"/>
    <stop offset="1" stop-color="#444444"/>
  </linearGradient>
  <linearGradient id="v2flR" x1="269" y1="0" x2="325.5" y2="0" gradientUnits="userSpaceOnUse">
    <stop offset="0" stop-color="#1a1a1a"/>
    <stop offset="0.6" stop-color="#262626"/>
    <stop offset="0.9" stop-color="#3a3a3a"/>
    <stop offset="1" stop-color="#6a6a6a"/>
  </linearGradient>
  <linearGradient id="v2plate" x1="138" y1="0" x2="269" y2="0" gradientUnits="userSpaceOnUse">
    <stop offset="0" stop-color="#a8a8a8"/>
    <stop offset="0.1" stop-color="#cfcfcf"/>
    <stop offset="0.45" stop-color="#e6e6e6"/>
    <stop offset="0.85" stop-color="#d4d4d4"/>
    <stop offset="1" stop-color="#b0b0b0"/>
  </linearGradient>
  <linearGradient id="v2nut" x1="0" y1="310.5" x2="0" y2="414" gradientUnits="userSpaceOnUse">
    <stop offset="0" stop-color="#e8e8e8"/>
    <stop offset="0.03" stop-color="#d87070"/>
    <stop offset="0.12" stop-color="#a01c20"/>
    <stop offset="0.14" stop-color="#d8d8d8"/>
    <stop offset="0.25" stop-color="#f0f0f0"/>
    <stop offset="0.26" stop-color="#2a2a2a"/>
    <stop offset="0.28" stop-color="#e0e0e0"/>
    <stop offset="0.72" stop-color="#ececec"/>
    <stop offset="0.735" stop-color="#2a2a2a"/>
    <stop offset="0.76" stop-color="#d0d0d0"/>
    <stop offset="0.88" stop-color="#a8a8a8"/>
    <stop offset="0.9" stop-color="#4a4a4a"/>
    <stop offset="0.94" stop-color="#9a9a9a"/>
    <stop offset="1" stop-color="#d8d8d8"/>
  </linearGradient>
  <linearGradient id="v2thrV" x1="0" y1="318" x2="0" y2="407" gradientUnits="userSpaceOnUse">
    <stop offset="0" stop-color="#f0f0f0"/>
    <stop offset="0.25" stop-color="#e4e4e4"/>
    <stop offset="0.28" stop-color="#9a9a9a"/>
    <stop offset="0.32" stop-color="#f4f4f4"/>
    <stop offset="0.68" stop-color="#f2f2f2"/>
    <stop offset="0.71" stop-color="#8a8a8a"/>
    <stop offset="0.75" stop-color="#dadada"/>
    <stop offset="1" stop-color="#e8e8e8"/>
  </linearGradient>
  <linearGradient id="v2ridgeG" x1="0" y1="0" x2="1" y2="0">
    <stop offset="0" stop-color="#555555" stop-opacity="0.9"/>
    <stop offset="0.18" stop-color="#9a9a9a" stop-opacity="0.5"/>
    <stop offset="0.42" stop-color="#ffffff" stop-opacity="0.9"/>
    <stop offset="0.7" stop-color="#bdbdbd" stop-opacity="0.4"/>
    <stop offset="1" stop-color="#6a6a6a" stop-opacity="0.85"/>
  </linearGradient>
  <pattern id="v2ridge" x="272" y="0" width="6.45" height="100" patternUnits="userSpaceOnUse">
    <rect x="0" y="0" width="6.45" height="100" fill="url(#v2ridgeG)"/>
  </pattern>
  <pattern id="v2lthread" x="0" y="500.5" width="100" height="6.2" patternUnits="userSpaceOnUse">
    <rect x="0" y="0" width="100" height="1.6" fill="#3a3a3a" fill-opacity="0.55"/>
    <rect x="0" y="2.6" width="100" height="2" fill="#ffffff" fill-opacity="0.5"/>
  </pattern>
  <linearGradient id="v2lthrG" x1="167.5" y1="0" x2="240.5" y2="0" gradientUnits="userSpaceOnUse">
    <stop offset="0" stop-color="#5a5a5a"/>
    <stop offset="0.1" stop-color="#7a7a7a"/>
    <stop offset="0.19" stop-color="#727272"/>
    <stop offset="0.2" stop-color="#cfcfcf"/>
    <stop offset="0.4" stop-color="#e8e8e8"/>
    <stop offset="0.7" stop-color="#e0e0e0"/>
    <stop offset="0.78" stop-color="#b0b0b0"/>
    <stop offset="0.79" stop-color="#3a3a3a"/>
    <stop offset="0.9" stop-color="#5a5a5a"/>
    <stop offset="1" stop-color="#6a6a6a"/>
  </linearGradient>

</defs>
<rect x="160" y="410" width="87.5" height="41" fill="url(#v2neck)"/>
<path d="M151.5 410 L256 410 L256 412 Q251 416 247.5 419.5 L160 419.5 Q156 416 151.5 412 Z" fill="url(#v2taper)" stroke="#e8e8e8" stroke-width="0.6"/>
<path d="M164 419.5 Q170 413 181 412 Q203.5 409 226.5 412 Q237 413 244 419.5 Z" fill="#6a6a6a" fill-opacity="0.6"/>
<path d="M181 420 L181 417.5 Q203.5 403 226.5 417.5 L226.5 420 Z" fill="#e2e2e2"/>
<path d="M181 417.5 Q203.5 403 226.5 417.5" fill="none" stroke="#fafafa" stroke-width="1.2"/>
<rect x="160" y="472" width="87.5" height="29" fill="url(#v2neck)"/>
<path d="M158 500 L249 500 L249 562 L241 567 L166 567 L158 562 Z" fill="#f2f2f2"/>
<g fill="none" stroke="#c8c8c8" stroke-width="0.8"><ellipse cx="161.5" cy="503.50" rx="3" ry="2.1"/><ellipse cx="245.5" cy="503.50" rx="3" ry="2.1"/><ellipse cx="161.5" cy="509.70" rx="3" ry="2.1"/><ellipse cx="245.5" cy="509.70" rx="3" ry="2.1"/><ellipse cx="161.5" cy="515.90" rx="3" ry="2.1"/><ellipse cx="245.5" cy="515.90" rx="3" ry="2.1"/><ellipse cx="161.5" cy="522.10" rx="3" ry="2.1"/><ellipse cx="245.5" cy="522.10" rx="3" ry="2.1"/><ellipse cx="161.5" cy="528.30" rx="3" ry="2.1"/><ellipse cx="245.5" cy="528.30" rx="3" ry="2.1"/><ellipse cx="161.5" cy="534.50" rx="3" ry="2.1"/><ellipse cx="245.5" cy="534.50" rx="3" ry="2.1"/><ellipse cx="161.5" cy="540.70" rx="3" ry="2.1"/><ellipse cx="245.5" cy="540.70" rx="3" ry="2.1"/><ellipse cx="161.5" cy="546.90" rx="3" ry="2.1"/><ellipse cx="245.5" cy="546.90" rx="3" ry="2.1"/><ellipse cx="161.5" cy="553.10" rx="3" ry="2.1"/><ellipse cx="245.5" cy="553.10" rx="3" ry="2.1"/><ellipse cx="161.5" cy="559.30" rx="3" ry="2.1"/><ellipse cx="245.5" cy="559.30" rx="3" ry="2.1"/></g>
<rect x="167.5" y="500.5" width="73" height="62" fill="url(#v2lthrG)"/>
<rect x="167.5" y="500.5" width="73" height="62" fill="url(#v2lthread)"/>
<g fill="#111" fill-opacity="0.6"><ellipse cx="169.5" cy="502.00" rx="2" ry="1.4"/><ellipse cx="181.5" cy="502.00" rx="1.4" ry="1.4"/><ellipse cx="224.5" cy="502.00" rx="1.4" ry="1.4"/><ellipse cx="238.5" cy="502.00" rx="1.6" ry="1.2"/><ellipse cx="169.5" cy="508.20" rx="2" ry="1.4"/><ellipse cx="181.5" cy="508.20" rx="1.4" ry="1.4"/><ellipse cx="224.5" cy="508.20" rx="1.4" ry="1.4"/><ellipse cx="238.5" cy="508.20" rx="1.6" ry="1.2"/><ellipse cx="169.5" cy="514.40" rx="2" ry="1.4"/><ellipse cx="181.5" cy="514.40" rx="1.4" ry="1.4"/><ellipse cx="224.5" cy="514.40" rx="1.4" ry="1.4"/><ellipse cx="238.5" cy="514.40" rx="1.6" ry="1.2"/><ellipse cx="169.5" cy="520.60" rx="2" ry="1.4"/><ellipse cx="181.5" cy="520.60" rx="1.4" ry="1.4"/><ellipse cx="224.5" cy="520.60" rx="1.4" ry="1.4"/><ellipse cx="238.5" cy="520.60" rx="1.6" ry="1.2"/><ellipse cx="169.5" cy="526.80" rx="2" ry="1.4"/><ellipse cx="181.5" cy="526.80" rx="1.4" ry="1.4"/><ellipse cx="224.5" cy="526.80" rx="1.4" ry="1.4"/><ellipse cx="238.5" cy="526.80" rx="1.6" ry="1.2"/><ellipse cx="169.5" cy="533.00" rx="2" ry="1.4"/><ellipse cx="181.5" cy="533.00" rx="1.4" ry="1.4"/><ellipse cx="224.5" cy="533.00" rx="1.4" ry="1.4"/><ellipse cx="238.5" cy="533.00" rx="1.6" ry="1.2"/><ellipse cx="169.5" cy="539.20" rx="2" ry="1.4"/><ellipse cx="181.5" cy="539.20" rx="1.4" ry="1.4"/><ellipse cx="224.5" cy="539.20" rx="1.4" ry="1.4"/><ellipse cx="238.5" cy="539.20" rx="1.6" ry="1.2"/><ellipse cx="169.5" cy="545.40" rx="2" ry="1.4"/><ellipse cx="181.5" cy="545.40" rx="1.4" ry="1.4"/><ellipse cx="224.5" cy="545.40" rx="1.4" ry="1.4"/><ellipse cx="238.5" cy="545.40" rx="1.6" ry="1.2"/><ellipse cx="169.5" cy="551.60" rx="2" ry="1.4"/><ellipse cx="181.5" cy="551.60" rx="1.4" ry="1.4"/><ellipse cx="224.5" cy="551.60" rx="1.4" ry="1.4"/><ellipse cx="238.5" cy="551.60" rx="1.6" ry="1.2"/><ellipse cx="169.5" cy="557.80" rx="2" ry="1.4"/><ellipse cx="181.5" cy="557.80" rx="1.4" ry="1.4"/><ellipse cx="224.5" cy="557.80" rx="1.4" ry="1.4"/><ellipse cx="238.5" cy="557.80" rx="1.6" ry="1.2"/></g>
<path d="M178 561.6 L227.5 561.6 L224 566.5 L181 566.5 Z" fill="#121212"/>
<path d="M227.5 561.6 L240 561.6 L248 562 L241 567 L224 566.5 Z" fill="url(#v2chR)"/>
<path d="M166 561.6 L178 561.6 L181 566.5 L166 567 L158.5 562 Z" fill="url(#v2chL)"/>
<path d="M81 449 L326 449 Q332.5 449 332.5 455.5 L332.5 470 Q332.5 472.8 329.5 472.8 L77.5 472.8 Q74.5 472.8 74.5 470 L74.5 455.5 Q74.5 449 81 449 Z" fill="#ececec" stroke="#c4c4c4" stroke-width="0.8"/>
<rect x="77" y="449.6" width="253" height="6" fill="url(#v2rim)"/>
<path d="M86 456 L140 456 L140 471.6 L86 471.6 Z" fill="url(#v2flL)"/>
<path d="M269 456 L325.5 456 L325.5 471.6 L269 471.6 Z" fill="url(#v2flR)"/>
<path d="M145 455 L262 455 Q269 455 269 461 L269 471.6 L138 471.6 L138 461 Q138 455 145 455 Z" fill="url(#v2plate)"/>
<rect x="86" y="471.4" width="240" height="1.2" fill="#f4f4f4"/>
<rect x="151.5" y="308" width="104.5" height="15" rx="1.5" fill="url(#v2topband)"/>
<rect x="151.5" y="322.8" width="104.5" height="77.4" fill="url(#v2face)"/>
<rect x="151.5" y="400" width="104.5" height="11" fill="url(#v2botband)"/>
<rect x="151.5" y="308" width="1.2" height="103" fill="#505050"/>
<rect x="152.7" y="323" width="2.5" height="77" fill="#f8f8f8"/>
<rect x="254.5" y="308" width="1.5" height="103" fill="#707070"/>
<rect x="256" y="310.5" width="15" height="103.5" fill="url(#v2nut)"/>
<rect x="256" y="310.5" width="1.2" height="103.5" fill="#777"/>
<rect x="269.5" y="310.5" width="1.5" height="103.5" fill="#9a9a9a"/>
<path d="M271 321.5 L275.23 317.6 L278.45 321.2 L281.68 317.6 L284.90 321.2 L288.12 317.6 L291.35 321.2 L294.58 317.6 L297.80 321.2 L301.03 317.6 L304.25 321.2 L307.48 317.6 L310.70 321.2 L313.93 317.6 L317.15 321.2 L316.5 318 L322.5 324 L322.5 400 L317 406 L313.93 405.5 L310.70 403 L307.48 405.5 L304.25 403 L301.03 405.5 L297.80 403 L294.58 405.5 L291.35 403 L288.12 405.5 L284.90 403 L281.68 405.5 L278.45 403 L275.23 405.5 L272.00 403 L271 403 Z" fill="url(#v2thrV)" stroke="#cfcfcf" stroke-width="0.6"/>
<rect x="272.0" y="321" width="45.15" height="82" fill="url(#v2ridge)"/>
<ellipse cx="275.55" cy="343.6" rx="2.3" ry="1.3" fill="#151515"/>
<ellipse cx="275.55" cy="381.8" rx="2.3" ry="1.3" fill="#151515"/>
<ellipse cx="275.55" cy="394.5" rx="2.2" ry="2.6" fill="#3a3a3a" fill-opacity="0.75"/>
<ellipse cx="282.00" cy="343.6" rx="2.3" ry="1.3" fill="#151515"/>
<ellipse cx="282.00" cy="381.8" rx="2.3" ry="1.3" fill="#151515"/>
<ellipse cx="282.00" cy="394.5" rx="2.2" ry="2.6" fill="#3a3a3a" fill-opacity="0.75"/>
<ellipse cx="288.45" cy="343.6" rx="2.3" ry="1.3" fill="#151515"/>
<ellipse cx="288.45" cy="381.8" rx="2.3" ry="1.3" fill="#151515"/>
<ellipse cx="288.45" cy="394.5" rx="2.2" ry="2.6" fill="#3a3a3a" fill-opacity="0.75"/>
<ellipse cx="294.90" cy="343.6" rx="2.3" ry="1.3" fill="#151515"/>
<ellipse cx="294.90" cy="381.8" rx="2.3" ry="1.3" fill="#151515"/>
<ellipse cx="294.90" cy="394.5" rx="2.2" ry="2.6" fill="#3a3a3a" fill-opacity="0.75"/>
<ellipse cx="301.35" cy="343.6" rx="2.3" ry="1.3" fill="#151515"/>
<ellipse cx="301.35" cy="381.8" rx="2.3" ry="1.3" fill="#151515"/>
<ellipse cx="301.35" cy="394.5" rx="2.2" ry="2.6" fill="#3a3a3a" fill-opacity="0.75"/>
<ellipse cx="307.80" cy="343.6" rx="2.3" ry="1.3" fill="#151515"/>
<ellipse cx="307.80" cy="381.8" rx="2.3" ry="1.3" fill="#151515"/>
<ellipse cx="307.80" cy="394.5" rx="2.2" ry="2.6" fill="#3a3a3a" fill-opacity="0.75"/>
<ellipse cx="314.25" cy="343.6" rx="2.3" ry="1.3" fill="#151515"/>
<ellipse cx="314.25" cy="381.8" rx="2.3" ry="1.3" fill="#151515"/>
<ellipse cx="314.25" cy="394.5" rx="2.2" ry="2.6" fill="#3a3a3a" fill-opacity="0.75"/>
<path d="M273.20 334 L275.00 325 L277.00 334 Z" fill="#a01c20" fill-opacity="0.90"/>
<path d="M279.65 334 L281.45 325 L283.45 334 Z" fill="#a01c20" fill-opacity="0.65"/>
<path d="M286.10 334 L287.90 325 L289.90 334 Z" fill="#a01c20" fill-opacity="0.40"/>
<rect x="293.85" y="326" width="2" height="8" fill="#d87070" fill-opacity="0.45"/>
<rect x="300.30" y="326" width="2" height="8" fill="#d87070" fill-opacity="0.45"/>
<rect x="306.75" y="326" width="2" height="8" fill="#d87070" fill-opacity="0.45"/>
<rect x="313.20" y="326" width="2" height="8" fill="#d87070" fill-opacity="0.45"/>
<path d="M316.5 345 L322.5 345 L322.5 396 L317.5 396 Z" fill="#2e2e2e"/>
<rect x="174" y="277.5" width="59" height="22.5" fill="url(#v2collar)"/>
<rect x="178" y="299.5" width="50.5" height="8.5" fill="url(#v2ring)"/>
<rect x="232.5" y="287.5" width="14" height="20" fill="#ececec" stroke="#8a3a3a" stroke-width="1.1"/>
<rect x="122" y="234.5" width="164" height="43.5" rx="1.5" fill="url(#v2handle)"/>
<rect x="122" y="234.5" width="164" height="43.5" rx="1.5" fill="url(#v2handleV)"/>
<rect x="174" y="277.6" width="59" height="2" fill="#741414" fill-opacity="0.7"/>
<path d="M188.5 278 L188.5 262 Q188.5 258.5 192 258.5 L215.5 258.5 Q219 258.5 219 262 L219 278 Z" fill="url(#v2stem)"/>
<path d="M188.8 262 Q188.8 258.8 192 258.8 L215.5 258.8 Q218.7 258.8 218.7 262 Q203.7 259.6 188.8 262 Z" fill="#741414" fill-opacity="0.6"/>
<g transform="translate(163.2,351.8) scale(0.965,0.955)" fill="none" stroke="#555" stroke-width="2.1"><path d="M10.6 0 V8.2 A5.1 5.1 0 0 1 0.9 9.6"/><circle cx="22.2" cy="6.5" r="6.3"/><path d="M31.9 13 V0.8 L38.2 10.6 L44.5 0.8 V13" stroke-linejoin="miter"/><circle cx="55.7" cy="6.5" r="6.3"/><circle cx="73" cy="6.5" r="6.3"/></g>
</g>
<text x="51" y="719" font-size="10.3" font-weight="bold" fill="#bcbcbc" stroke="#bcbcbc" stroke-width="0.5" textLength="587" lengthAdjust="spacingAndGlyphs">*When installing, wrap the appropriate amount of raw material tape around the thread of the water</text>
<text x="54.5" y="728.5" font-size="10.3" font-weight="bold" fill="#bcbcbc" stroke="#bcbcbc" stroke-width="0.5" textLength="531" lengthAdjust="spacingAndGlyphs">inlet, align the thread on the pipeline, and screw on 5-6 teeth to ensure no water leakage</text>
<text x="57" y="743.7" font-size="12" font-weight="bold" fill="#ababab" stroke="#ababab" stroke-width="0.55" textLength="162.5" lengthAdjust="spacingAndGlyphs">Then adjust the direction</text>
<text x="60" y="754.5" font-size="12" font-weight="bold" fill="#ababab" stroke="#ababab" stroke-width="0.55" textLength="124.5" lengthAdjust="spacingAndGlyphs">of the water outlet.</text>
</svg>
</body></html>
